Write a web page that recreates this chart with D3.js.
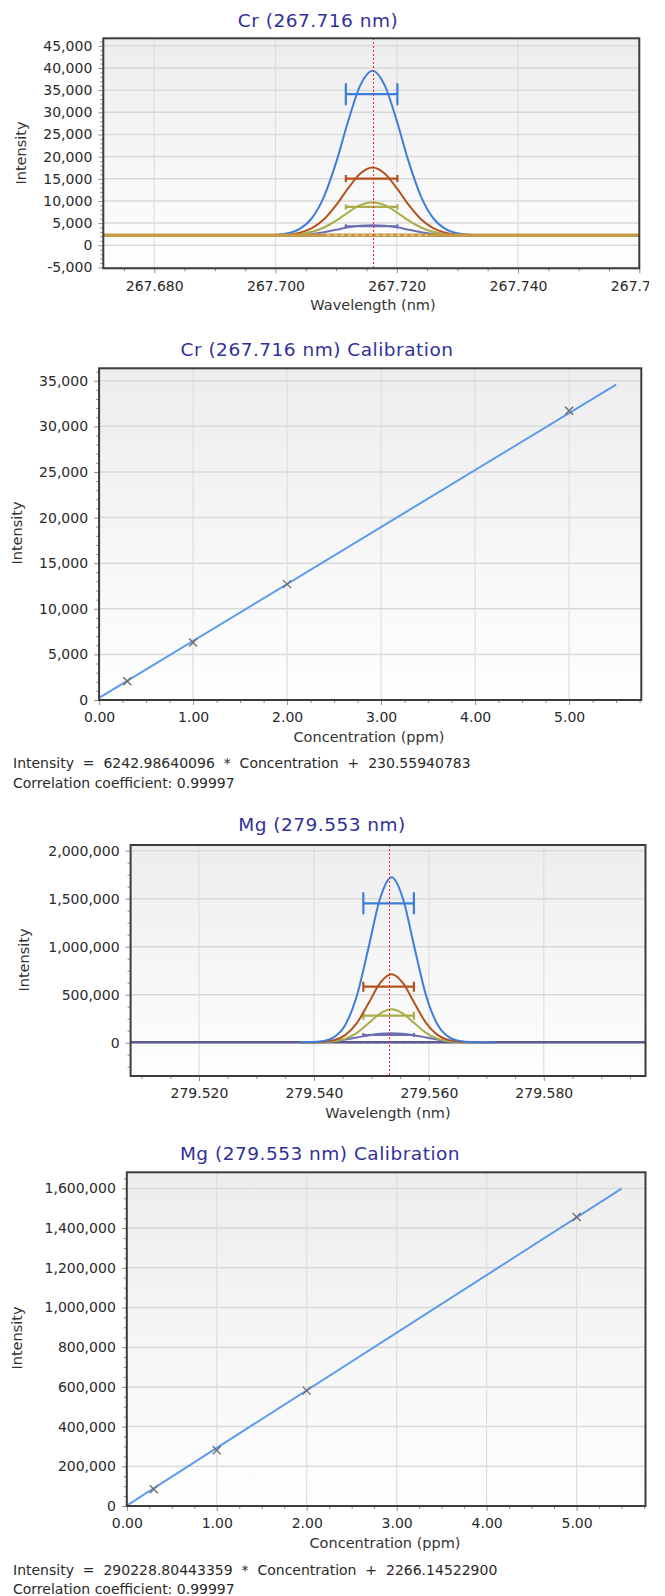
<!DOCTYPE html>
<html>
<head>
<meta charset="utf-8">
<script src="https://cdn.jsdelivr.net/npm/d3@7"></script>
<style>
  body { margin: 0; background: #fff; }
  svg text { font-family: "DejaVu Sans", Verdana, sans-serif; }
</style>
</head>
<body>
<svg id="chart" width="665" height="1596"></svg>
<script>
// ---------- data ----------

// Cr 267.716 nm peak scans (4 standards, high to low)
const crWavelength = [267.700, 267.702, 267.704, 267.706, 267.708, 267.710, 267.712, 267.714, 267.716,
                      267.718, 267.720, 267.722, 267.724, 267.726, 267.728, 267.730, 267.732, 267.734];
const crPeak5  = [2370, 2700, 3690, 6120, 10980, 18700, 28080, 36130, 39360, 36130, 28080, 18700, 10980, 6120, 3690, 2700, 2370, 2260];
const crPeak2  = [2300, 2440, 2850, 3850, 5850, 9030, 12900, 16210, 17540, 16210, 12900, 9030, 5850, 3850, 2850, 2440, 2300, 2260];
const crPeak1  = [2280, 2350, 2550, 3030, 4010, 5560, 7440, 9050, 9700, 9050, 7440, 5560, 4010, 3030, 2550, 2350, 2280, 2260];
const crPeak03 = [2260, 2280, 2350, 2550, 2950, 3500, 4050, 4400, 4500, 4400, 4050, 3500, 2950, 2550, 2350, 2280, 2260, 2260];
const crBarLevel = [34090, 15050, 8650, 4290];
const crBarWindow = [267.7116, 267.7201];
const crBaseline = 2260;
const crBlankWindow = [267.7085, 267.7250];
const crLine = 267.716;

// Mg 279.553 nm peak scans
const mgWavelength = [279.5375, 279.5395, 279.5415, 279.5435, 279.5455, 279.5475, 279.5495, 279.5515, 279.5535,
                      279.5555, 279.5575, 279.5595, 279.5615, 279.5635, 279.5655, 279.5675, 279.5695, 279.5715];
const mgPeak5  = [5000, 6900, 16300, 58300, 190500, 494600, 989400, 1499700, 1723000, 1499700, 989400, 494600, 190500, 58300, 16300, 6900, 5000, 5000];
const mgPeak2  = [5000, 5800, 9700, 26900, 81400, 206500, 410100, 620100, 712000, 620100, 410100, 206500, 81400, 26900, 9700, 5800, 5000, 5000];
const mgPeak1  = [5000, 5400, 7300, 15600, 42000, 102800, 201500, 303400, 348000, 303400, 201500, 102800, 42000, 15600, 7300, 5400, 5000, 5000];
const mgPeak03 = [5000, 6000, 9000, 17000, 33000, 55000, 76000, 92000, 98000, 92000, 76000, 55000, 33000, 17000, 9000, 6000, 5000, 5000];
const mgBarLevel = [1452000, 583000, 281000, 80000];
const mgBarWindow = [279.5486, 279.5574];
const mgBaseline = 5000;
const mgBlankWindow = [279.5459, 279.5598];
const mgLine = 279.553;

// calibration standards
const stdConc = [0.3, 1.0, 2.0, 5.0];
const crStdInt = [2050, 6300, 12700, 31700];
const mgStdInt = [84000, 281000, 581000, 1456000];
const fitConc = [0, 5.5];
const crFitInt = [231, 34567];
const mgFitInt = [2266, 1598524];

const crEquation = "Intensity  =  6242.98640096  *  Concentration  +  230.55940783";
const mgEquation = "Intensity  =  290228.80443359  *  Concentration  +  2266.14522900";
const corrText = "Correlation coefficient: 0.99997";

// ---------- drawing ----------
const svg = d3.select("#chart");
const seriesColors = ["#3d7ddc", "#b4521f", "#a9ae4a", "#6d6db2"];

const defs = svg.append("defs");
const grad = defs.append("linearGradient").attr("id", "plotBg")
  .attr("x1", 0).attr("y1", 0).attr("x2", 0).attr("y2", 1);
grad.append("stop").attr("offset", "0%").attr("stop-color", "#ededed");
grad.append("stop").attr("offset", "100%").attr("stop-color", "#fefefe");

const fmtInt = v => d3.format(",")(v).replace("\u2212", "-");

let clipCount = 0;

function panel(o) {
  const g = svg.append("g");
  const x = d3.scaleLinear().domain(o.xDomain).range([o.left, o.right]);
  const y = d3.scaleLinear().domain(o.yDomain).range([o.bottom, o.top]);

  const clipId = "clip" + (clipCount++);
  defs.append("clipPath").attr("id", clipId).append("rect")
    .attr("x", o.left).attr("y", o.top)
    .attr("width", o.right - o.left).attr("height", o.bottom - o.top);

  g.append("rect")
    .attr("x", o.left).attr("y", o.top)
    .attr("width", o.right - o.left).attr("height", o.bottom - o.top)
    .attr("fill", "url(#plotBg)");

  // grid
  g.append("g").selectAll("line").data(o.yMajor).join("line")
    .attr("x1", o.left).attr("x2", o.right)
    .attr("y1", d => y(d)).attr("y2", d => y(d))
    .attr("stroke", "#d9d9d9").attr("stroke-width", 1.5);
  g.append("g").selectAll("line").data(o.xMajor).join("line")
    .attr("y1", o.top).attr("y2", o.bottom)
    .attr("x1", d => x(d)).attr("x2", d => x(d))
    .attr("stroke", "#dedede").attr("stroke-width", 1.2);

  // axes
  const yAxis = g.append("g").attr("transform", `translate(${o.left},0)`)
    .call(d3.axisLeft(y).tickValues(o.yMajor).tickSize(5).tickPadding(6).tickFormat(o.yFmt));
  const yMinor = g.append("g").attr("transform", `translate(${o.left},0)`)
    .call(d3.axisLeft(y).tickValues(o.yMinor).tickSize(3).tickFormat(""));
  const xAxis = g.append("g").attr("transform", `translate(0,${o.bottom})`)
    .call(d3.axisBottom(x).tickValues(o.xMajor).tickSize(5).tickPadding(7.5).tickFormat(o.xFmt));
  const xMinor = g.append("g").attr("transform", `translate(0,${o.bottom})`)
    .call(d3.axisBottom(x).tickValues(o.xMinor).tickSize(3).tickFormat(""));
  [yAxis, yMinor, xAxis, xMinor].forEach(a => {
    a.select(".domain").remove();
    a.selectAll("line").attr("stroke", "#8e8e8e");
    a.selectAll("text").attr("font-size", 14).attr("fill", "#2a2a2a");
  });
  // the last wavelength label runs past the picture edge, as in the source
  if (o.xClip) {
    const cid = "clip" + (clipCount++);
    defs.append("clipPath").attr("id", cid).append("rect")
      .attr("x", 0).attr("y", 0).attr("width", o.xClip).attr("height", 1596);
    xAxis.attr("clip-path", `url(#${cid})`);
  }

  const plot = g.append("g").attr("clip-path", `url(#${clipId})`);

  const border = () => g.append("rect")
    .attr("x", o.left).attr("y", o.top)
    .attr("width", o.right - o.left).attr("height", o.bottom - o.top)
    .attr("fill", "none").attr("stroke", "#3c3c3c").attr("stroke-width", 2);

  // titles
  g.append("text").attr("x", o.titleX).attr("y", o.titleY).attr("dy", "0.35em")
    .attr("text-anchor", "middle").attr("font-size", 18.5).attr("letter-spacing", 0.5)
    .attr("fill", "#31319a").text(o.title);
  g.append("text").attr("x", o.xTitleX).attr("y", o.xTitleY).attr("dy", "0.35em")
    .attr("text-anchor", "middle").attr("font-size", 14.5).attr("fill", "#333")
    .text(o.xTitle);
  g.append("text")
    .attr("transform", `translate(${o.yTitleX},${o.yTitleY}) rotate(-90)`)
    .attr("dy", "0.35em").attr("text-anchor", "middle").attr("font-size", 14.5)
    .attr("fill", "#333").text("Intensity");

  return { g, plot, x, y, border };
}

function peakChart(o) {
  const p = panel(o);
  const { plot, x, y } = p;
  const line = d3.line().x(d => x(d[0])).y(d => y(d[1])).curve(d3.curveMonotoneX);
  const baseLine = () => plot.append("line")
    .attr("x1", x(o.xDomain[0])).attr("x2", x(o.xDomain[1]))
    .attr("y1", y(o.baseline)).attr("y2", y(o.baseline))
    .attr("stroke", o.baseColor).attr("stroke-width", o.baseWidth);

  if (!o.baseOnTop) baseLine();

  // lowest standard first
  for (let i = o.series.length - 1; i >= 0; i--) {
    const pts = o.wavelength.map((w, k) => [w, o.series[i][k]]);
    plot.append("path").datum(pts).attr("d", line)
      .attr("fill", "none").attr("stroke", seriesColors[i]).attr("stroke-width", 2);
    const by = y(o.barLevel[i]);
    const x0 = x(o.barWindow[0]), x1 = x(o.barWindow[1]);
    const c = o.capHalf[i];
    const bar = plot.append("g").attr("stroke", seriesColors[i]).attr("stroke-width", 2.2);
    bar.append("line").attr("x1", x0).attr("x2", x1).attr("y1", by).attr("y2", by);
    bar.append("line").attr("x1", x0).attr("x2", x0).attr("y1", by - c).attr("y2", by + c);
    bar.append("line").attr("x1", x1).attr("x2", x1).attr("y1", by - c).attr("y2", by + c);
  }

  if (o.baseOnTop) baseLine();

  plot.append("line")
    .attr("x1", x(o.blankWindow[0])).attr("x2", x(o.blankWindow[1]))
    .attr("y1", y(o.baseline)).attr("y2", y(o.baseline))
    .attr("stroke", o.blankColor).attr("stroke-width", o.blankWidth)
    .attr("stroke-dasharray", o.blankDash);

  const nx = Math.round(x(o.nominal)) + 0.5;
  plot.append("line")
    .attr("x1", nx).attr("x2", nx)
    .attr("y1", o.top).attr("y2", o.bottom)
    .attr("stroke", "#ff1f1f").attr("stroke-width", 1).attr("stroke-dasharray", "2,2")
    .attr("shape-rendering", "crispEdges");

  p.border();
}

function calChart(o) {
  const p = panel(o);
  const { plot, x, y } = p;
  plot.append("path")
    .datum(o.fitConc.map((c, i) => [c, o.fitInt[i]]))
    .attr("d", d3.line().x(d => x(d[0])).y(d => y(d[1])))
    .attr("fill", "none").attr("stroke", "#5b9bee").attr("stroke-width", 2);
  const m = 4;
  plot.append("g").selectAll("path").data(o.stdConc.map((c, i) => [c, o.stdInt[i]])).join("path")
    .attr("d", d => {
      const cx = x(d[0]), cy = y(d[1]);
      return `M${cx - m},${cy - m}L${cx + m},${cy + m}M${cx - m},${cy + m}L${cx + m},${cy - m}`;
    })
    .attr("stroke", "#6a6a6a").attr("stroke-width", 1.3).attr("fill", "none");
  p.border();

  const t = p.g.append("g").attr("font-size", 14).attr("fill", "#2a2a2a");
  t.append("text").attr("x", 13).attr("y", o.eqY).attr("dy", "0.35em")
    .style("white-space", "pre").text(o.equation);
  t.append("text").attr("x", 13).attr("y", o.corrY).attr("dy", "0.35em").text(corrText);
}

const range = (a, b, s) => d3.range(Math.round(a / s), Math.round(b / s) + 1).map(k => +(k * s).toFixed(6));
const notIn = (arr, major) => arr.filter(v => !major.some(m => Math.abs(m - v) < 1e-9));

// Cr peak
{
  const yMajor = range(-5000, 45000, 5000);
  const xMajor = [267.680, 267.700, 267.720, 267.740, 267.760];
  peakChart({
    left: 103.3, right: 639.3, top: 38.3, bottom: 268.3,
    xDomain: [267.6716, 267.760], yDomain: [-5200, 46700],
    xMajor, xMinor: notIn(range(267.675, 267.760, 0.005), xMajor),
    yMajor, yMinor: notIn(range(-5000, 46000, 1000), yMajor),
    xFmt: d3.format(".3f"), yFmt: fmtInt, xClip: 649,
    title: "Cr (267.716 nm)", titleX: 318, titleY: 20.3,
    xTitle: "Wavelength (nm)", xTitleX: 373, xTitleY: 305,
    yTitleX: 21, yTitleY: 153,
    wavelength: crWavelength, series: [crPeak5, crPeak2, crPeak1, crPeak03],
    barLevel: crBarLevel, barWindow: crBarWindow, capHalf: [11, 3.5, 2.5, 2],
    baseline: crBaseline, baseColor: "#c49a47", baseWidth: 3.3, baseOnTop: true,
    blankWindow: crBlankWindow, blankColor: "#f4e7c6", blankWidth: 1, blankDash: "3,4",
    nominal: crLine
  });
}

// Cr calibration
{
  const yMajor = range(0, 35000, 5000);
  const xMajor = [0, 1, 2, 3, 4, 5];
  calChart({
    left: 99.1, right: 641.3, top: 368.3, bottom: 700,
    xDomain: [0, 5.768], yDomain: [0, 36360],
    xMajor, xMinor: notIn(range(0, 5.75, 0.25), xMajor),
    yMajor, yMinor: notIn(range(0, 36000, 1000), yMajor),
    xFmt: d3.format(".2f"), yFmt: fmtInt,
    title: "Cr (267.716 nm) Calibration", titleX: 317, titleY: 349.3,
    xTitle: "Concentration (ppm)", xTitleX: 369, xTitleY: 736.7,
    yTitleX: 17, yTitleY: 533,
    fitConc, fitInt: crFitInt, stdConc, stdInt: crStdInt,
    equation: crEquation, eqY: 763.3, corrY: 783.3
  });
}

// Mg peak
{
  const yMajor = range(0, 2000000, 500000);
  const xMajor = [279.520, 279.540, 279.560, 279.580];
  peakChart({
    left: 130.6, right: 645.5, top: 845, bottom: 1076,
    xDomain: [279.5081, 279.5977], yDomain: [-347000, 2059000],
    xMajor, xMinor: notIn(range(279.510, 279.595, 0.005), xMajor),
    yMajor, yMinor: notIn(range(-250000, 2000000, 125000), yMajor),
    xFmt: d3.format(".3f"), yFmt: fmtInt,
    title: "Mg (279.553 nm)", titleX: 322, titleY: 825,
    xTitle: "Wavelength (nm)", xTitleX: 388, xTitleY: 1113.3,
    yTitleX: 23.5, yTitleY: 960,
    wavelength: mgWavelength, series: [mgPeak5, mgPeak2, mgPeak1, mgPeak03],
    barLevel: mgBarLevel, barWindow: mgBarWindow, capHalf: [11, 5, 4, 2],
    baseline: mgBaseline, baseColor: "#5b5b92", baseWidth: 2.4, baseOnTop: false,
    blankWindow: mgBlankWindow, blankColor: "#5b5b92", blankWidth: 2, blankDash: "5,4",
    nominal: mgLine
  });
}

// Mg calibration
{
  const yMajor = range(0, 1600000, 200000);
  const xMajor = [0, 1, 2, 3, 4, 5];
  calChart({
    left: 126.8, right: 645.5, top: 1172.3, bottom: 1506,
    xDomain: [0, 5.766], yDomain: [0, 1681000],
    xMajor, xMinor: notIn(range(0, 5.75, 0.25), xMajor),
    yMajor, yMinor: notIn(range(0, 1650000, 50000), yMajor),
    xFmt: d3.format(".2f"), yFmt: fmtInt,
    title: "Mg (279.553 nm) Calibration", titleX: 320, titleY: 1153.3,
    xTitle: "Concentration (ppm)", xTitleX: 385, xTitleY: 1543.3,
    yTitleX: 17, yTitleY: 1338,
    fitConc, fitInt: mgFitInt, stdConc, stdInt: mgStdInt,
    equation: mgEquation, eqY: 1570, corrY: 1589.3
  });
}
</script>
</body>
</html>
